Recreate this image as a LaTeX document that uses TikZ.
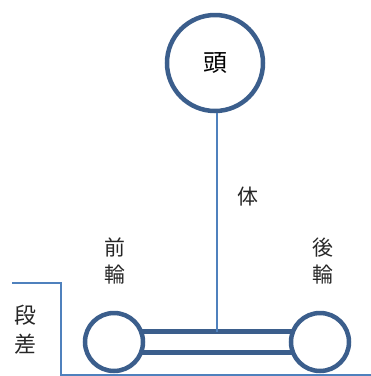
\documentclass[tikz,border=0pt]{standalone}
\usepackage{fontspec}
\newfontfamily\cjk{Noto Sans CJK JP}
\definecolor{dk}{HTML}{3B5E8C}
\definecolor{lt}{HTML}{4F81BD}
\begin{document}
\begin{tikzpicture}[x=1bp,y=-1bp,
  thick line/.style={draw=dk,line width=4.5bp},
  thin line/.style={draw=lt,line width=1.3bp},
  wheel/.style={circle,thick line,fill=white,minimum size=58bp,inner sep=0pt},
  lbl/.style={font=\cjk\fontsize{21}{27}\selectfont,align=center,inner sep=0pt,text=black!85}]
\useasboundingbox (0,0) rectangle (371,376);
% head
\node[circle,thick line,minimum size=96bp,inner sep=0pt,font=\cjk\fontsize{24}{28}\selectfont] (head) at (215,63) {頭};
% wheel centres
\coordinate (fc) at (114,342);
\coordinate (rc) at (320,342);
\coordinate (bt) at (217,331.5);
% bar
\draw[thick line] ([yshift=-10.5bp]fc) -- ([yshift=-10.5bp]rc);
\draw[thick line] ([yshift=10.5bp]fc) -- ([yshift=10.5bp]rc);
% wheels
\node[wheel] (fw) at (fc) {};
\node[wheel] (rw) at (rc) {};
% body
\draw[thin line] (head.south -| bt) -- (bt);
% step and ground
\coordinate (s1) at (12,283);
\coordinate (s2) at (61,283);
\coordinate (s3) at (61,375);
\coordinate (g2) at (371,375);
\draw[thin line] (s1) -- (s2) -- (s3) -- (g2);
% labels
\node[lbl] (tai) at (248,197) {体};
\node[lbl] (zen) at (115,261) {前\\輪};
\node[lbl] (go) at (323,261) {後\\輪};
\node[lbl,font=\cjk\fontsize{22}{29}\selectfont] (dansa) at (25,330) {段\\差};
\end{tikzpicture}
\end{document}
